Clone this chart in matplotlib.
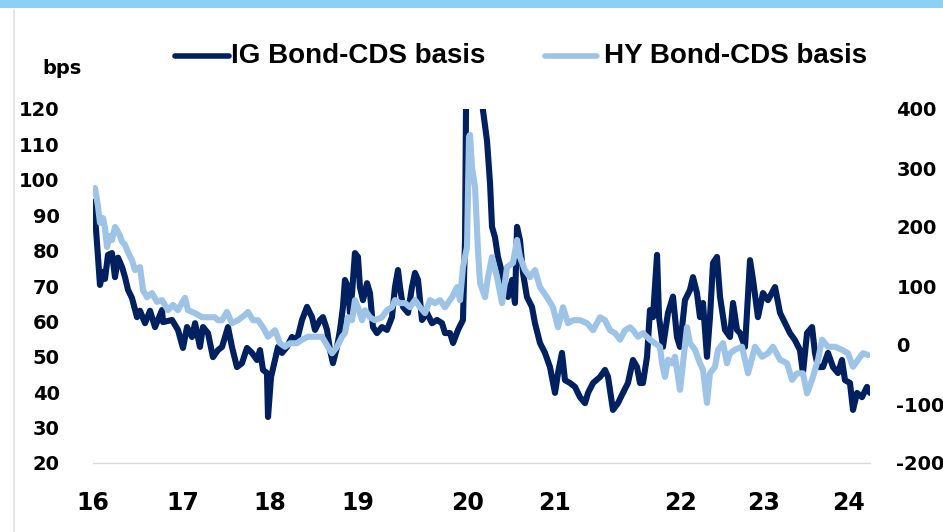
import matplotlib
matplotlib.use("Agg")
import matplotlib.pyplot as plt
from matplotlib.lines import Line2D
from matplotlib.patches import Rectangle

# IG bond-CDS basis (bps, left axis), dates as decimal years (16 = 2016)
ig_dates = [16.003, 16.032, 16.053, 16.074, 16.106, 16.127, 16.159, 16.201, 16.233, 16.265,
            16.307, 16.339, 16.371, 16.413, 16.466, 16.498, 16.551, 16.604, 16.657, 16.731,
            16.742, 16.837, 16.900, 16.953, 16.996, 17.049, 17.081, 17.133, 17.165, 17.218,
            17.271, 17.324, 17.367, 17.430, 17.472, 17.525, 17.578, 17.631, 17.684, 17.737,
            17.769, 17.801, 17.843, 17.854, 17.886, 17.928, 17.960, 18.002, 18.055, 18.108,
            18.161, 18.214, 18.267, 18.320, 18.352, 18.405, 18.436, 18.479, 18.511, 18.542,
            18.585, 18.617, 18.648, 18.669, 18.701, 18.722, 18.744, 18.775, 18.807, 18.828,
            18.860, 18.903, 18.934, 18.966, 19.008, 19.061, 19.114, 19.167, 19.199, 19.231,
            19.252, 19.284, 19.337, 19.379, 19.411, 19.443, 19.485, 19.538, 19.591, 19.644,
            19.697, 19.729, 19.782, 19.814, 19.867, 19.919, 19.941, 19.951, 19.962, 19.994,
            20.036, 20.078, 20.110, 20.131, 20.174, 20.206, 20.227, 20.258, 20.290, 20.333,
            20.364, 20.396, 20.439, 20.470, 20.492, 20.523, 20.555, 20.597, 20.650, 20.682,
            20.735, 20.788, 20.841, 20.894, 20.926, 20.968, 21.000, 21.053, 21.106, 21.159,
            21.212, 21.244, 21.297, 21.371, 21.424, 21.456, 21.508, 21.561, 21.614, 21.667,
            21.720, 21.763, 21.794, 21.826, 21.869, 21.900, 21.932, 21.975, 21.996, 22.038,
            22.091, 22.144, 22.186, 22.218, 22.271, 22.324, 22.356, 22.398, 22.430, 22.462,
            22.504, 22.536, 22.568, 22.610, 22.642, 22.695, 22.748, 22.780, 22.822, 22.854,
            22.907, 22.960, 22.992, 23.044, 23.097, 23.150, 23.225, 23.278, 23.331, 23.383,
            23.436, 23.489, 23.521, 23.564, 23.617, 23.648, 23.680, 23.733, 23.786, 23.839,
            23.892, 23.934, 23.966, 24.019, 24.051, 24.093, 24.146, 24.199, 24.231]
ig_basis = [93.8, 86.0, 78.0, 70.3, 74.0, 72.0, 78.8, 79.3, 72.5, 78.0,
            75.4, 72.5, 68.9, 66.6, 61.2, 63.0, 59.5, 63.0, 58.4, 63.2,
            59.8, 60.4, 57.6, 52.5, 58.4, 55.6, 59.5, 52.8, 58.4, 56.7,
            49.9, 51.9, 52.8, 58.4, 52.8, 47.1, 48.2, 52.5, 51.1, 49.1,
            51.9, 46.3, 45.4, 33.0, 44.3, 49.1, 52.8, 51.1, 52.8, 55.6,
            54.7, 60.4, 64.1, 61.2, 57.6, 60.4, 61.2, 57.6, 51.9, 48.2,
            52.8, 57.6, 64.1, 71.7, 69.7, 62.4, 68.0, 79.3, 78.2, 69.7,
            66.0, 70.8, 68.0, 58.4, 56.7, 58.4, 57.6, 61.2, 69.7, 74.5,
            69.7, 64.1, 62.4, 69.7, 73.7, 71.7, 60.4, 62.4, 59.5, 60.4,
            59.5, 56.7, 56.7, 53.9, 57.6, 60.4, 83.0, 118.9, 145.0, 160.0,
            150.0, 140.0, 128.0, 119.7, 111.0, 99.0, 86.7, 83.8, 78.2, 73.7,
            69.7, 66.9, 71.7, 65.2, 86.7, 83.0, 73.7, 66.9, 64.1, 59.5,
            53.9, 51.1, 47.1, 39.8, 45.4, 51.1, 43.4, 42.6, 41.5, 38.6,
            36.9, 39.8, 42.6, 44.3, 46.3, 44.3, 35.0, 36.9, 39.8, 42.6,
            49.1, 47.1, 42.6, 42.6, 50.0, 63.2, 61.2, 78.8, 61.2, 52.8,
            62.4, 67.0, 55.6, 52.8, 66.0, 68.9, 72.5, 68.0, 61.2, 65.2,
            50.0, 61.2, 76.5, 78.2, 67.0, 57.6, 55.6, 65.2, 57.6, 56.7,
            52.8, 77.3, 71.7, 61.2, 68.0, 66.0, 69.7, 62.4, 59.5, 56.7,
            54.7, 51.9, 45.4, 56.7, 58.4, 51.1, 47.1, 47.1, 51.1, 47.1,
            45.4, 49.1, 43.4, 42.6, 35.0, 39.8, 38.6, 41.5, 39.8]

# HY bond-CDS basis (bps, right axis)
hy_dates = [16.021, 16.053, 16.074, 16.106, 16.127, 16.148, 16.180, 16.201, 16.233, 16.254,
            16.286, 16.307, 16.339, 16.360, 16.392, 16.413, 16.445, 16.498, 16.530, 16.572,
            16.625, 16.678, 16.731, 16.794, 16.847, 16.900, 16.943, 16.975, 17.006, 17.081,
            17.155, 17.218, 17.292, 17.324, 17.367, 17.419, 17.472, 17.536, 17.610, 17.642,
            17.695, 17.748, 17.801, 17.854, 17.928, 17.981, 18.034, 18.087, 18.161, 18.214,
            18.278, 18.352, 18.426, 18.489, 18.532, 18.585, 18.638, 18.669, 18.701, 18.744,
            18.775, 18.807, 18.850, 18.881, 18.934, 18.987, 19.061, 19.114, 19.167, 19.199,
            19.252, 19.305, 19.358, 19.411, 19.464, 19.517, 19.570, 19.623, 19.676, 19.729,
            19.803, 19.856, 19.888, 19.919, 19.962, 19.983, 19.994, 20.015, 20.047, 20.078,
            20.100, 20.153, 20.184, 20.227, 20.280, 20.333, 20.386, 20.449, 20.492, 20.523,
            20.576, 20.629, 20.682, 20.735, 20.809, 20.873, 20.926, 20.979, 21.032, 21.085,
            21.159, 21.233, 21.297, 21.371, 21.424, 21.477, 21.530, 21.583, 21.636, 21.689,
            21.720, 21.773, 21.826, 21.900, 21.953, 22.006, 22.028, 22.059, 22.091, 22.133,
            22.165, 22.218, 22.250, 22.292, 22.324, 22.377, 22.430, 22.462, 22.504, 22.536,
            22.589, 22.621, 22.674, 22.716, 22.748, 22.801, 22.875, 22.939, 23.013, 23.087,
            23.150, 23.203, 23.278, 23.352, 23.405, 23.458, 23.521, 23.564, 23.617, 23.680,
            23.723, 23.786, 23.860, 23.934, 23.998, 24.051, 24.104, 24.157, 24.210]
hy_basis = [266, 235, 207, 215, 198, 166, 185, 178, 200, 195,
            185, 175, 170, 161, 150, 144, 127, 132, 93, 81,
            88, 73, 76, 59, 68, 59, 72, 80, 59, 54,
            47, 47, 47, 42, 42, 56, 37, 42, 51, 56,
            42, 42, 30, 14, 25, 3, -3, 3, 3, 9,
            14, 14, 14, -3, -14, -3, 14, 20, 47, 42,
            76, 64, 42, 59, 47, 42, 47, 59, 64, 76,
            71, 71, 64, 76, 64, 54, 76, 71, 76, 64,
            81, 98, 76, 132, 166, 353, 356, 300, 268, 161,
            105, 81, 115, 149, 115, 71, 132, 139, 178, 149,
            127, 115, 127, 98, 81, 64, 30, 64, 37, 42,
            42, 37, 25, 47, 42, 25, 20, 9, 25, 30,
            25, 14, 20, 9, 3, -3, -31, -54, -25, -31,
            -20, -76, -31, 30, 3, -8, -31, -42, -98, -48,
            -37, -8, 3, -31, -14, -8, -3, -48, -3, -20,
            -14, -3, -25, -31, -59, -48, -48, -82, -59, -25,
            9, -3, -3, -8, -14, -37, -25, -14, -17]

# x-axis labels and where they sit on the date scale
year_ticks = [16.0, 16.95, 17.875, 18.80, 19.97, 20.89, 22.22, 23.10, 24.0]
year_labels = ["16", "17", "18", "19", "20", "21", "22", "23", "24"]
left_ticks = [20, 30, 40, 50, 60, 70, 80, 90, 100, 110, 120]
right_ticks = [-200, -100, 0, 100, 200, 300, 400]

IG_COLOR = "#002060"
HY_COLOR = "#9DC3E6"
W, H = 943, 532

fig = plt.figure(figsize=(W / 100, H / 100), dpi=100)
fig.patch.set_facecolor("white")

# header band and left frame line
fig.patches.append(Rectangle((0, 1 - 8 / H), 1, 8 / H, transform=fig.transFigure,
                             facecolor="#8BD0F5", edgecolor="none"))
fig.lines.append(Line2D([14 / W, 14 / W], [0, 1 - 10 / H], transform=fig.transFigure,
                        color="#e3e3e3", lw=1.2))

ax = fig.add_axes([93 / W, 1 - 463 / H, 777 / W, 354 / H])
ax2 = ax.twinx()

ax.plot(ig_dates, ig_basis, color=IG_COLOR, lw=4.4, solid_joinstyle="round",
        solid_capstyle="round", zorder=2)
ax2.plot(hy_dates, hy_basis, color=HY_COLOR, lw=4.4, solid_joinstyle="round",
         solid_capstyle="round", zorder=3)

ax.set_xlim(16.0, 24.231)
ax.set_ylim(20, 120)
ax2.set_ylim(-200, 400)

ax.set_xticks(year_ticks)
ax.set_xticklabels(year_labels)
ax.set_yticks(left_ticks)
ax.set_yticklabels([str(v) for v in left_ticks])
ax2.set_yticks(right_ticks)
ax2.set_yticklabels([str(v) for v in right_ticks])

tick_font = dict(family="DejaVu Sans", weight="bold")
for lbl in ax.get_yticklabels():
    lbl.set(fontsize=14, **tick_font)
for lbl in ax2.get_yticklabels():
    lbl.set(fontsize=14, **tick_font)
for lbl in ax.get_xticklabels():
    lbl.set(fontsize=17, **tick_font)

ax.tick_params(axis="y", length=0, pad=24)
ax2.tick_params(axis="y", length=0, pad=19)
ax.tick_params(axis="x", length=0, pad=20)

for a in (ax, ax2):
    for s in ("top", "left", "right"):
        a.spines[s].set_visible(False)
    a.spines["bottom"].set_color("#d9d9d9")
    a.spines["bottom"].set_linewidth(1.0)
    a.patch.set_visible(False)
ax2.spines["bottom"].set_visible(False)

# unit label
fig.text(42 / W, 1 - 68 / H, "bps", fontsize=14, ha="left", va="center", **tick_font)

# legend
legend_font = dict(family="Liberation Sans", weight="bold", fontsize=20)
for x0, x1, tx, col, name in [(175, 229, 231, IG_COLOR, "IG Bond-CDS basis"),
                              (545, 597, 604, HY_COLOR, "HY Bond-CDS basis")]:
    fig.lines.append(Line2D([x0 / W, x1 / W], [1 - 56 / H, 1 - 56 / H],
                            transform=fig.transFigure, color=col, lw=4,
                            solid_capstyle="round"))
    fig.text(tx / W, 1 - 56 / H, name, ha="left", va="center", **legend_font)

fig.savefig("out.png", dpi=100)
